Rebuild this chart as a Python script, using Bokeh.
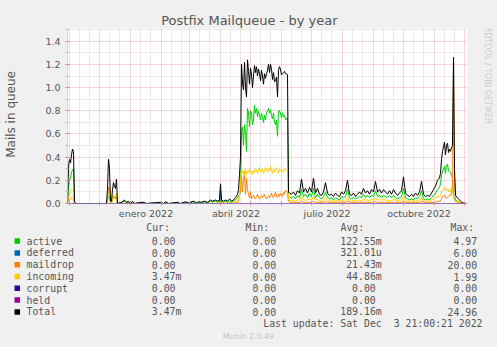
import math
from bokeh.plotting import figure
from bokeh.layouts import column, row
from bokeh.models import Range1d, FixedTicker, Span, Title, PrintfTickFormatter
from bokeh.core.properties import value
from bokeh.embed import file_html
from bokeh.resources import INLINE

# ---------------- data ----------------
# x = days since 2021-10-30 (Munin "by year" graph, one pixel per day)
day = [
    0, 1, 2, 3, 4, 5, 6, 7, 8,
    39, 40, 41, 42, 43, 44, 45, 46, 47, 48, 49, 50,
    54, 57, 59, 61, 63, 65, 67, 73, 76, 79, 93, 96, 98, 101, 110, 113, 118, 121, 126, 129,
    131, 134, 137, 140, 143, 145, 148, 150, 152, 153, 154, 156, 158, 160, 162, 164, 166, 168, 170, 171,
    172, 173, 174, 175, 176, 177, 178, 179, 180, 181, 182, 183, 184, 185, 186, 187, 188, 189, 190, 191,
    192, 193, 194, 195, 196, 197, 198, 199, 200, 201, 202, 203, 204, 205, 206, 207, 208, 209, 210, 211,
    212, 213, 214, 215, 216, 217, 218, 219, 220, 221,
    222, 224, 226, 228, 230, 232, 234, 236, 238, 240, 242, 244, 246, 248, 250, 252, 254, 256, 258, 260,
    262, 264, 266, 268, 270, 272, 274, 276, 278, 280, 282, 284, 286, 288, 290, 292, 294, 296, 298, 300,
    302, 304, 306, 308, 310, 312, 314, 316, 318, 320, 322, 324, 326, 328, 330, 332, 334, 336, 338, 340,
    342, 344, 346, 348, 350, 352, 354, 356, 358, 360, 362, 364,
    366, 368, 370, 372, 373, 374, 375, 377, 378, 379, 380, 381, 382, 383, 384, 385, 386, 387, 388, 390,
    392, 394, 396, 399,
]

total = [
    0.0, 0.32, 0.38, 0.35, 0.42, 0.47, 0.45, 0.02, 0.0,
    0.0, 0.12, 0.38, 0.30, 0.02, 0.02, 0.12, 0.18, 0.15, 0.13, 0.21, 0.0,
    0.01, 0.03, 0.01, 0.02, 0.0, 0.02, 0.0, 0.01, 0.01, 0.0, 0.01, 0.0, 0.015, 0.0, 0.01, 0.0, 0.015, 0.005, 0.02, 0.005,
    0.015, 0.01, 0.02, 0.01, 0.03, 0.02, 0.03, 0.02, 0.03, 0.17, 0.03, 0.02, 0.03, 0.02, 0.04, 0.02, 0.03, 0.05, 0.08, 0.12,
    0.25, 0.40, 1.20, 1.04, 0.98, 1.22, 1.00, 0.92, 1.24, 1.14, 1.03, 1.17, 1.11, 1.00, 1.10, 1.19, 1.13, 1.18, 1.10, 1.16,
    1.12, 1.06, 1.15, 1.10, 1.03, 1.12, 1.08, 1.12, 1.15, 1.20, 1.13, 1.20, 1.16, 1.07, 1.13, 1.05, 1.06, 1.09, 0.92, 1.15,
    1.18, 1.16, 1.11, 1.12, 1.13, 1.14, 1.12, 1.12, 1.11, 0.10,
    0.09, 0.08, 0.10, 0.07, 0.11, 0.09, 0.21, 0.10, 0.13, 0.09, 0.14, 0.10, 0.22, 0.09, 0.13, 0.08, 0.07, 0.10, 0.18, 0.09,
    0.07, 0.08, 0.06, 0.09, 0.07, 0.06, 0.10, 0.08, 0.11, 0.20, 0.08, 0.07, 0.09, 0.06, 0.08, 0.10, 0.08, 0.13, 0.09, 0.11,
    0.08, 0.12, 0.10, 0.19, 0.10, 0.12, 0.09, 0.12, 0.10, 0.08, 0.11, 0.08, 0.12, 0.09, 0.07, 0.09, 0.11, 0.23, 0.09, 0.07,
    0.06, 0.08, 0.06, 0.09, 0.07, 0.10, 0.19, 0.08, 0.06, 0.07, 0.06, 0.09,
    0.12, 0.15, 0.20, 0.22, 0.26, 0.38, 0.45, 0.53, 0.42, 0.50, 0.52, 0.44, 0.47, 0.45, 0.48, 0.50, 1.26, 0.30, 0.07, 0.05,
    0.03, 0.01, 0.005, 0.0,
]

active = [
    0.0, 0.15, 0.20, 0.22, 0.27, 0.29, 0.30, 0.01, 0.0,
    0.0, 0.03, 0.06, 0.05, 0.01, 0.01, 0.04, 0.06, 0.05, 0.04, 0.07, 0.0,
    0.01, 0.02, 0.005, 0.01, 0.0, 0.01, 0.0, 0.005, 0.01, 0.0, 0.01, 0.0, 0.01, 0.0, 0.01, 0.0, 0.01, 0.0, 0.015, 0.0,
    0.01, 0.005, 0.015, 0.005, 0.02, 0.01, 0.02, 0.01, 0.02, 0.03, 0.02, 0.01, 0.02, 0.01, 0.02, 0.01, 0.02, 0.03, 0.05, 0.07,
    0.08, 0.10, 0.62, 0.66, 0.50, 0.68, 0.62, 0.45, 0.82, 0.78, 0.66, 0.80, 0.78, 0.68, 0.72, 0.85, 0.78, 0.82, 0.75, 0.80,
    0.76, 0.72, 0.78, 0.74, 0.70, 0.76, 0.72, 0.78, 0.80, 0.82, 0.78, 0.81, 0.76, 0.73, 0.78, 0.70, 0.68, 0.72, 0.58, 0.80,
    0.80, 0.78, 0.74, 0.78, 0.75, 0.76, 0.72, 0.73, 0.74, 0.05,
    0.05, 0.05, 0.06, 0.04, 0.07, 0.05, 0.12, 0.06, 0.08, 0.05, 0.09, 0.06, 0.13, 0.05, 0.08, 0.05, 0.04, 0.06, 0.10, 0.05,
    0.04, 0.05, 0.03, 0.05, 0.04, 0.03, 0.06, 0.05, 0.06, 0.12, 0.05, 0.04, 0.05, 0.04, 0.05, 0.06, 0.05, 0.08, 0.05, 0.07,
    0.05, 0.07, 0.06, 0.11, 0.06, 0.07, 0.05, 0.07, 0.06, 0.05, 0.07, 0.05, 0.07, 0.05, 0.04, 0.05, 0.06, 0.13, 0.05, 0.04,
    0.03, 0.04, 0.03, 0.05, 0.04, 0.06, 0.11, 0.04, 0.03, 0.04, 0.03, 0.05,
    0.07, 0.09, 0.12, 0.14, 0.17, 0.24, 0.28, 0.32, 0.26, 0.33, 0.34, 0.28, 0.28, 0.27, 0.24, 0.22, 0.06, 0.04, 0.03, 0.02,
    0.01, 0.005, 0.0, 0.0,
]

incoming = [
    0.0, 0.05, 0.08, 0.10, 0.12, 0.12, 0.11, 0.0, 0.0,
    0.0, 0.04, 0.10, 0.08, 0.01, 0.0, 0.05, 0.08, 0.07, 0.06, 0.09, 0.0,
    0.0, 0.01, 0.0, 0.0, 0.0, 0.0, 0.0, 0.0, 0.0, 0.0, 0.0, 0.0, 0.0, 0.0, 0.0, 0.0, 0.0, 0.0, 0.0, 0.0,
    0.0, 0.0, 0.0, 0.0, 0.005, 0.0, 0.0, 0.0, 0.005, 0.02, 0.005, 0.0, 0.005, 0.0, 0.01, 0.0, 0.01, 0.01, 0.02, 0.03,
    0.08, 0.20, 0.30, 0.26, 0.28, 0.24, 0.30, 0.25, 0.28, 0.27, 0.30, 0.26, 0.28, 0.25, 0.29, 0.27, 0.30, 0.28, 0.26, 0.29,
    0.31, 0.27, 0.29, 0.30, 0.26, 0.28, 0.31, 0.29, 0.27, 0.30, 0.28, 0.32, 0.29, 0.26, 0.30, 0.27, 0.29, 0.31, 0.28, 0.26,
    0.30, 0.28, 0.29, 0.27, 0.28, 0.30, 0.29, 0.28, 0.27, 0.03,
    0.03, 0.02, 0.03, 0.02, 0.03, 0.03, 0.06, 0.03, 0.03, 0.03, 0.04, 0.03, 0.06, 0.03, 0.04, 0.02, 0.02, 0.03, 0.05, 0.03,
    0.02, 0.02, 0.02, 0.03, 0.02, 0.02, 0.03, 0.02, 0.03, 0.05, 0.02, 0.02, 0.03, 0.02, 0.02, 0.03, 0.02, 0.04, 0.03, 0.03,
    0.02, 0.04, 0.03, 0.05, 0.03, 0.03, 0.03, 0.04, 0.03, 0.02, 0.03, 0.02, 0.04, 0.03, 0.02, 0.03, 0.03, 0.06, 0.03, 0.02,
    0.02, 0.02, 0.02, 0.03, 0.02, 0.03, 0.05, 0.02, 0.02, 0.02, 0.02, 0.03,
    0.04, 0.05, 0.06, 0.06, 0.07, 0.10, 0.11, 0.14, 0.11, 0.12, 0.13, 0.10, 0.12, 0.11, 0.14, 0.13, 0.05, 0.03, 0.02, 0.02,
    0.01, 0.005, 0.0, 0.0,
]

maildrop = [
    0.0, 0.02, 0.03, 0.04, 0.05, 0.05, 0.04, 0.0, 0.0,
    0.0, 0.05, 0.14, 0.10, 0.0, 0.0, 0.04, 0.06, 0.05, 0.04, 0.07, 0.0,
    0.0, 0.0, 0.0, 0.0, 0.0, 0.0, 0.0, 0.0, 0.0, 0.0, 0.0, 0.0, 0.0, 0.0, 0.0, 0.0, 0.0, 0.0, 0.0, 0.0,
    0.0, 0.0, 0.0, 0.0, 0.0, 0.0, 0.0, 0.0, 0.0, 0.01, 0.0, 0.0, 0.0, 0.0, 0.0, 0.0, 0.0, 0.01, 0.01, 0.02,
    0.08, 0.10, 0.24, 0.10, 0.20, 0.28, 0.08, 0.22, 0.12, 0.08, 0.05, 0.10, 0.04, 0.06, 0.07, 0.05, 0.04, 0.06, 0.08, 0.05,
    0.04, 0.06, 0.07, 0.05, 0.06, 0.08, 0.05, 0.04, 0.06, 0.07, 0.05, 0.06, 0.09, 0.06, 0.05, 0.07, 0.10, 0.06, 0.05, 0.08,
    0.06, 0.09, 0.07, 0.06, 0.10, 0.08, 0.11, 0.11, 0.09, 0.02,
    0.01, 0.01, 0.01, 0.01, 0.01, 0.01, 0.02, 0.01, 0.01, 0.01, 0.01, 0.01, 0.02, 0.01, 0.01, 0.01, 0.01, 0.01, 0.02, 0.01,
    0.01, 0.01, 0.01, 0.01, 0.01, 0.01, 0.01, 0.01, 0.01, 0.02, 0.01, 0.01, 0.01, 0.01, 0.01, 0.01, 0.01, 0.01, 0.01, 0.01,
    0.01, 0.01, 0.01, 0.02, 0.01, 0.01, 0.01, 0.01, 0.01, 0.01, 0.01, 0.01, 0.01, 0.01, 0.01, 0.01, 0.01, 0.02, 0.01, 0.01,
    0.01, 0.01, 0.01, 0.01, 0.01, 0.01, 0.02, 0.01, 0.01, 0.01, 0.01, 0.01,
    0.01, 0.01, 0.02, 0.02, 0.02, 0.04, 0.06, 0.07, 0.05, 0.05, 0.05, 0.06, 0.07, 0.07, 0.10, 0.15, 1.15, 0.22, 0.02, 0.01,
    0.005, 0.0, 0.0, 0.0,
]

deferred_day = [0, 152, 153, 154, 399]
deferred = [0.0, 0.0, 0.11, 0.0, 0.0]
corrupt_day = [0, 399]
corrupt = [0.0, 0.0]
held_day = [0, 399]
held = [0.0, 0.0]

month_days = [2, 32, 63, 94, 122, 153, 183, 214, 244, 275, 306, 336, 367, 397]
label_days = [78.5, 168.5, 259.5, 351.5]
label_text = ["enero 2022", "abril 2022", "julio 2022", "octubre 2022"]
y_ticks = [0.0, 0.2, 0.4, 0.6, 0.8, 1.0, 1.2, 1.4]
y_minor = [0.1, 0.3, 0.5, 0.7, 0.9, 1.1, 1.3, 1.5]

names = ["active", "deferred", "maildrop", "incoming", "corrupt", "held", "Total"]
colors = ["#00CC00", "#0066B3", "#FF8000", "#FFCC00", "#330099", "#990099", "#000000"]
cur = ["0.00", "0.00", "0.00", "3.47m", "0.00", "0.00", "3.47m"]
mins = ["0.00", "0.00", "0.00", "0.00", "0.00", "0.00", "0.00"]
avgs = ["122.55m", "321.01u", "21.43m", "44.86m", "0.00", "0.00", "189.16m"]
maxs = ["4.97", "6.00", "20.00", "1.99", "0.00", "0.00", "24.96"]
headers = ["Cur:", "Min:", "Avg:", "Max:"]

# ---------------- layout constants ----------------
W, H = 497, 347
TOP_H = 222           # height of the chart part
LEFT_W = 20           # left strip for the y-axis title
SIDE_W = 15           # right strip for the vertical credit
FL, FT, FR, FB = 67, 28, 467, 203   # frame edges in page pixels
BG = "#F0F0F0"
TXT = "#555555"
LAV = "#B4B4E8"
MGRID = "#EDB0B0"
GRID = "#D6D6D6"
FONT = "DejaVu Sans"
MONO = "DejaVu Sans Mono"
MAIN_W = W - LEFT_W - SIDE_W

# ---------------- main chart ----------------
p = figure(width=MAIN_W, height=TOP_H, output_backend="svg", toolbar_location=None,
           x_range=Range1d(0, 400), y_range=Range1d(0, 1.51),
           min_border_left=FL - LEFT_W, min_border_right=LEFT_W + MAIN_W - FR,
           min_border_top=FT, min_border_bottom=TOP_H - FB,
           background_fill_color="#FFFFFF", border_fill_color=BG, outline_line_color=None)

p.title = Title(text="Postfix Mailqueue - by year", align="left", offset=160.7 - FL,
                text_font=FONT, text_font_size="13px", text_font_style="normal",
                text_color=TXT, standoff=1)

dekads = [m + k for m in month_days for k in (10, 20) if m + k < 400]
p.xgrid.ticker = FixedTicker(ticks=month_days, minor_ticks=dekads)
p.ygrid.ticker = FixedTicker(ticks=y_ticks, minor_ticks=y_minor)
for g in (p.xgrid, p.ygrid):
    g.grid_line_color = MGRID
    g.grid_line_dash = "1 1"
    g.minor_grid_line_color = GRID
    g.minor_grid_line_dash = "1 1"

xa = p.xaxis[0]
xa.ticker = FixedTicker(ticks=label_days, minor_ticks=month_days)
xa.major_label_overrides = {d: t for d, t in zip(label_days, label_text)}
xa.major_tick_line_color = None
xa.major_tick_in = 0
xa.major_tick_out = 0
xa.minor_tick_line_color = "#E08080"
xa.minor_tick_in = 2
xa.minor_tick_out = 2
xa.major_label_standoff = 2
xa.axis_line_color = None

ya = p.yaxis[0]
ya.ticker = FixedTicker(ticks=y_ticks, minor_ticks=y_minor)
ya.formatter = PrintfTickFormatter(format="%.1f")
ya.major_tick_line_color = "#E08080"
ya.major_tick_in = 2
ya.major_tick_out = 2
ya.minor_tick_line_color = "#BBBBBB"
ya.minor_tick_in = 1
ya.minor_tick_out = 2
ya.major_label_standoff = 5
ya.axis_line_color = None

for ax in (xa, ya):
    ax.major_label_text_font = FONT
    ax.major_label_text_font_size = "9.5px"
    ax.major_label_text_color = TXT

series = [(day, active, colors[0]), (deferred_day, deferred, colors[1]),
          (day, maildrop, colors[2]), (day, incoming, colors[3]),
          (corrupt_day, corrupt, colors[4]), (held_day, held, colors[5]),
          (day, total, colors[6])]
for xs, ys, c in series:
    p.line(xs, ys, line_color=c, line_width=1)

p.add_layout(Span(location=0, dimension="width", line_color=LAV, line_width=1, level="overlay"))
p.add_layout(Span(location=0, dimension="height", line_color=LAV, line_width=1, level="overlay"))


def strip(x0, w):
    f = figure(width=w, height=TOP_H, output_backend="svg", toolbar_location=None,
               x_range=Range1d(x0, x0 + w), y_range=Range1d(TOP_H, 0),
               min_border=0, x_axis_location=None, y_axis_location=None,
               background_fill_color=BG, border_fill_color=BG, outline_line_color=None)
    f.grid.visible = False
    return f


# ---------------- left strip (y-axis title) ----------------
left = strip(0, LEFT_W)
left.text(x=[10], y=[109], text=["Mails in queue"], angle=math.pi / 2,
          text_font=value(FONT), text_font_size=value("12px"), text_color=TXT,
          text_align="center", text_baseline="middle")

# ---------------- right strip (vertical credit) ----------------
side = strip(W - SIDE_W, SIDE_W)
side.text(x=[486.5], y=[56], text=["RRDTOOL / TOBI OETIKER"], angle=-math.pi / 2,
          text_font=value(FONT), text_font_size=value("8px"), text_color="#CCCCCC",
          text_align="center", text_baseline="middle")

# ---------------- legend block ----------------
leg = figure(width=W, height=H - TOP_H, output_backend="svg", toolbar_location=None,
             x_range=Range1d(0, W), y_range=Range1d(H, TOP_H),
             min_border=0, x_axis_location=None, y_axis_location=None,
             background_fill_color=BG, border_fill_color=BG, outline_line_color=None)
leg.grid.visible = False

FS = 9.85
CW = 0.602 * FS
row_y = [240.6 + 11.8 * i for i in range(len(names))]
hdr_x = [145.7, 245.0, 340.0, 450.0]
edges = [175.0, 275.7, 375.3, 476.7]

leg.rect(x=[16.8] * len(names), y=row_y, width=5.5, height=5.5, fill_color=colors,
         line_color=None)
mono = dict(text_font=value(MONO), text_font_size=value(f"{FS}px"), text_color=TXT,
            text_baseline="middle")
leg.text(x=hdr_x, y=[227.3] * 4, text=headers, text_align="left", **mono)
leg.text(x=[26.0] * len(names), y=row_y, text=names, text_align="left", **mono)
vx, vy, vt = [], [], []
for col, vals in enumerate((cur, mins, avgs, maxs)):
    for i, v in enumerate(vals):
        vx.append(edges[col] + (CW if v[-1].isalpha() else 0.0))
        vy.append(row_y[i])
        vt.append(v)
leg.text(x=vx, y=vy, text=vt, text_align="right", **mono)
leg.text(x=[262.7, 262.7 + 22 * CW], y=[323.3, 323.3],
         text=["Last update: Sat Dec", "3 21:00:21 2022"], text_align="left", **mono)
leg.text(x=[222.3], y=[336.0], text=["Munin 2.0.49"], text_font=value(FONT),
         text_font_size=value("7.8px"), text_color="#C4C4C4", text_align="left",
         text_baseline="middle")

layout = column(row(left, p, side, spacing=0), leg, spacing=0)
layout.styles = {"background-color": BG}

open("out.html", "w").write(file_html(layout, INLINE))
